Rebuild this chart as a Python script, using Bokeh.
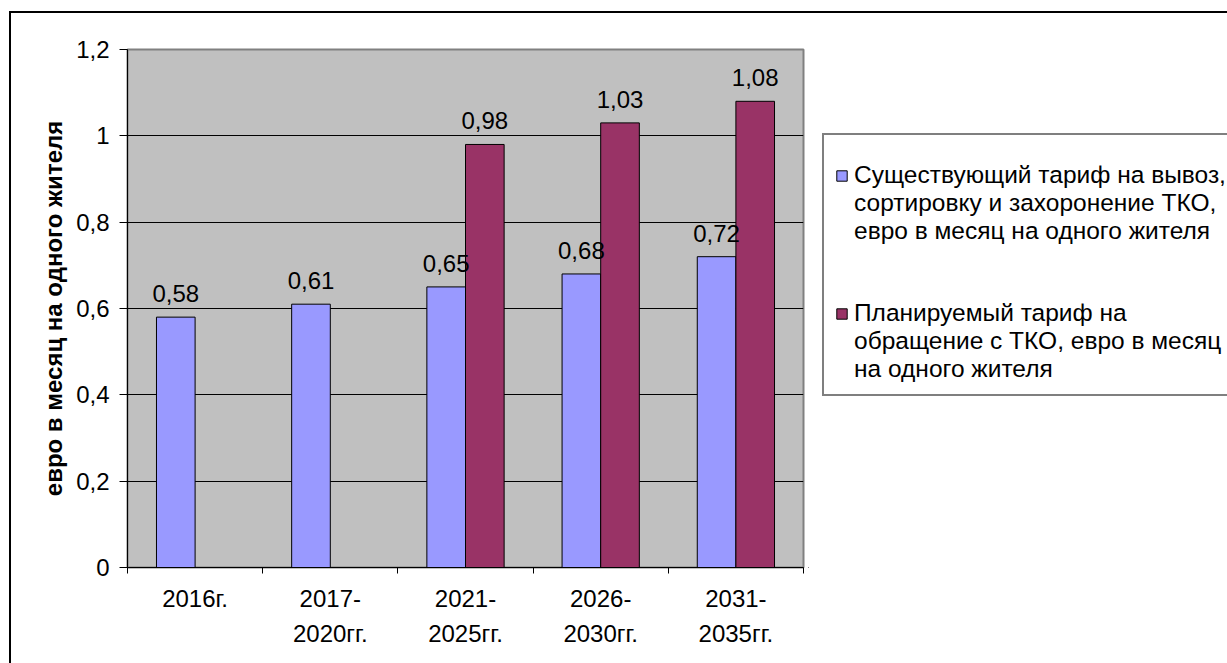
from bokeh.plotting import figure
from bokeh.layouts import column, row
from bokeh.models import (Range1d, FixedTicker, ColumnDataSource, LabelSet, Legend, LegendItem)
from bokeh.core.properties import value
from bokeh.transform import dodge
from bokeh.embed import file_html
from bokeh.resources import INLINE

categories = ["2016г.", "2017-\n2020гг.", "2021-\n2025гг.", "2026-\n2030гг.", "2031-\n2035гг."]
existing = [0.58, 0.61, 0.65, 0.68, 0.72]
planned = [None, None, 0.98, 1.03, 1.08]
y_ticks = [0, 0.2, 0.4, 0.6, 0.8, 1.0, 1.2]
y_tick_labels = ["0", "0,2", "0,4", "0,6", "0,8", "1", "1,2"]
series_names = [
    ["Существующий тариф на вывоз,", "сортировку и захоронение ТКО,", "евро в месяц на одного жителя"],
    ["Планируемый тариф на", "обращение с ТКО, евро в месяц", "на одного жителя"],
]
y_title = "евро в месяц на одного жителя"

FONT = "Liberation Sans"
FS = "24px"
BLUE = "#9999FF"
MAROON = "#993366"
BAR_W = 1 / 3.5
OFF = BAR_W / 2


def fmt(v):
    return f"{v:.2f}".replace(".", ",")


xc = [i + 0.5 for i in range(len(categories))]
src_e = ColumnDataSource(dict(x=xc, y=existing, lbl=[fmt(v) for v in existing]))
idx = [i for i, v in enumerate(planned) if v is not None]
src_p = ColumnDataSource(dict(x=[xc[i] for i in idx], y=[planned[i] for i in idx],
                              lbl=[fmt(planned[i]) for i in idx]))

# ---- main chart (its origin is at page (11, 13), inside the bordered wrapper)
p = figure(width=797, height=650, x_range=Range1d(0, len(categories)), y_range=Range1d(0, 1.2),
           output_backend="svg", toolbar_location=None,
           min_border_left=116, min_border_right=5, min_border_top=36, min_border_bottom=96)
p.background_fill_color = "#C0C0C0"
p.border_fill_color = "white"
p.outline_line_color = "#808080"
p.outline_line_width = 2

bar_e = dict(fill_color=BLUE, line_color="black", line_width=1)
bar_p = dict(fill_color=MAROON, line_color="black", line_width=1)
p.vbar(x=dodge("x", -OFF, range=p.x_range), top="y", width=BAR_W, source=src_e, **bar_e)
p.vbar(x=dodge("x", OFF, range=p.x_range), top="y", width=BAR_W, source=src_p, **bar_p)

for src, off in ((src_e, -OFF), (src_p, OFF)):
    p.add_layout(LabelSet(x=dodge("x", off, range=p.x_range), y="y", text="lbl", source=src,
                          text_align="center", text_baseline="alphabetic", y_offset=15,
                          text_font=value(FONT), text_font_size=value(FS), text_color="black"))

xa = p.xaxis[0]
xa.ticker = FixedTicker(ticks=xc, minor_ticks=list(range(len(categories) + 1)))
xa.major_label_overrides = {x: c for x, c in zip(xc, categories)}
xa.major_tick_line_color = None
xa.major_tick_out = 0
xa.major_tick_in = 0
xa.minor_tick_line_color = "black"
xa.minor_tick_out = 6
xa.minor_tick_in = 0
xa.axis_line_color = "black"
xa.major_label_text_font = FONT
xa.major_label_text_font_size = FS
xa.major_label_text_color = "black"
xa.major_label_text_line_height = 1.3
xa.major_label_standoff = 11

ya = p.yaxis[0]
ya.ticker = FixedTicker(ticks=y_ticks)
ya.major_label_overrides = {t: l for t, l in zip(y_ticks, y_tick_labels)}
ya.major_tick_out = 8
ya.major_tick_in = 0
ya.minor_tick_line_color = None
ya.major_tick_line_color = "black"
ya.axis_line_color = "black"
ya.major_label_text_font = FONT
ya.major_label_text_font_size = FS
ya.major_label_text_color = "black"
ya.major_label_standoff = 10
ya.axis_label = y_title
ya.axis_label_text_font = FONT
ya.axis_label_text_font_size = FS
ya.axis_label_text_font_style = "bold"
ya.axis_label_text_color = "black"
ya.axis_label_standoff = 6

p.xgrid.grid_line_color = None
p.ygrid.ticker = FixedTicker(ticks=y_ticks[1:-1])
p.ygrid.grid_line_color = "black"
p.ygrid.grid_line_width = 1

# ---- legend panel (page x 808..1227); its frame is aligned with the chart's frame
lp = figure(width=419, height=650, x_range=Range1d(0, 1), y_range=Range1d(0, 1),
            output_backend="svg", toolbar_location=None,
            x_axis_location=None, y_axis_location=None,
            min_border_left=0, min_border_right=0, min_border_top=0, min_border_bottom=0)
lp.outline_line_color = None
lp.grid.grid_line_color = None
lp.background_fill_color = "white"
lp.border_fill_color = "white"

# legend key proxies: one point each, placed outside this panel's visible range
proxy = ColumnDataSource(dict(x=[-5], top=[-5]))
key_e = lp.vbar(x="x", top="top", width=0.1, source=proxy, **bar_e)
key_p = lp.vbar(x="x", top="top", width=0.1, source=proxy, **bar_p)
blank = lp.vbar(x="x", top="top", width=0.1, source=proxy, fill_alpha=0, line_alpha=0)

items = []
for names, key in ((series_names[0], key_e), (series_names[1], key_p)):
    if items:
        items += [LegendItem(label=" ", renderers=[blank]), LegendItem(label="  ", renderers=[blank])]
    items.append(LegendItem(label=names[0], renderers=[key]))
    items += [LegendItem(label=t, renderers=[blank]) for t in names[1:]]

legend = Legend(items=items, location=(14, 171), orientation="vertical")
legend.title = " "
legend.title_text_font_size = "6px"
legend.title_standoff = 9
legend.label_text_font = FONT
legend.label_text_font_size = "24.5px"
legend.label_text_color = "black"
legend.label_height = 27
legend.glyph_width = 13
legend.glyph_height = 13
legend.label_standoff = 6
legend.label_width = 385
legend.padding = 11
legend.spacing = 0
legend.margin = 0
legend.border_line_color = "black"
legend.border_line_width = 2
legend.background_fill_color = "white"
legend.background_fill_alpha = 1
lp.add_layout(legend, "center")

page = column(row(p, lp, spacing=0), margin=(11, 0, 0, 9),
              styles={"border-left": "2px solid black", "border-top": "2px solid black"})

open("out.html", "w").write(file_html(page, INLINE))
